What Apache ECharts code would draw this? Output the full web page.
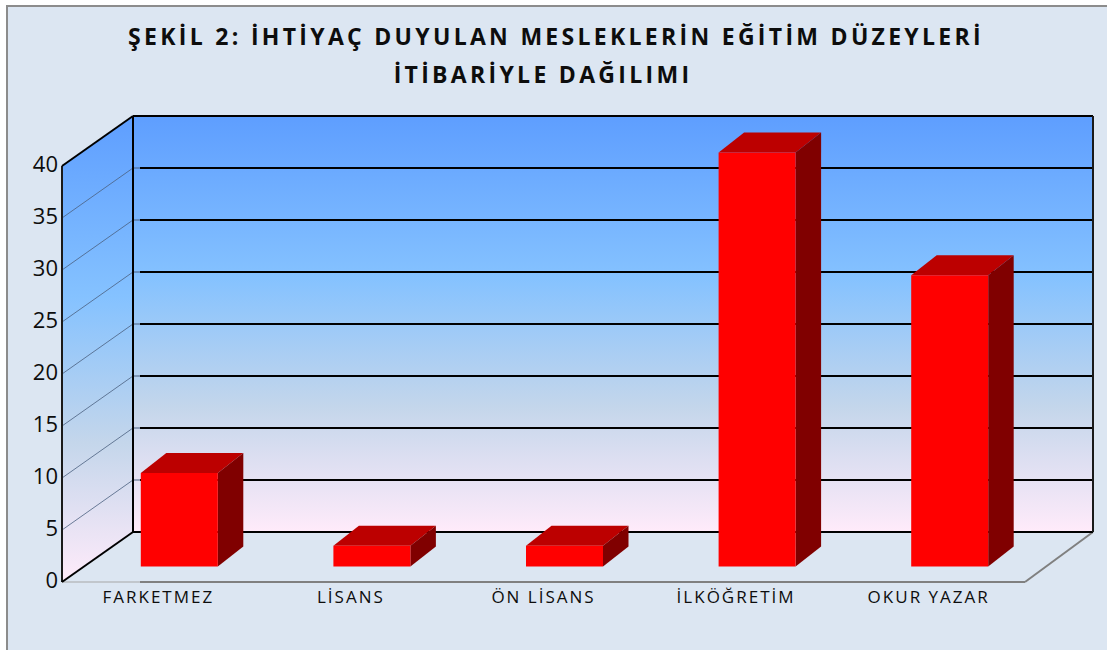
<!DOCTYPE html>
<html>
<head>
<meta charset="utf-8">
<style>
html,body{margin:0;padding:0;background:#fff}
#c{width:1107px;height:650px}
#c text[style*="bold"], #c text[font-weight="bold"]{letter-spacing:3.3px}
#c text[style*="17px"], #c text[font-size="17px"]{letter-spacing:2px}
</style>
<script src="https://cdn.jsdelivr.net/npm/echarts@6/dist/echarts.min.js"></script>
</head>
<body>
<div id="c"></div>
<script>
const titleLine1 = 'ŞEKİL 2: İHTİYAÇ DUYULAN MESLEKLERİN EĞİTİM DÜZEYLERİ';
const titleLine2 = 'İTİBARİYLE DAĞILIMI';
const categories = ['FARKETMEZ', 'LİSANS', 'ÖN LİSANS', 'İLKÖĞRETİM', 'OKUR YAZAR'];
const values = [9, 2, 2, 39.8, 28];
const yTicks = [0, 5, 10, 15, 20, 25, 30, 35, 40];

const wallDx = 71, wallDy = -50, floorRightDx = 68, gap = 7;
const barW = 77, barShiftX = 21, barShiftY = -15.5, barDx = 25.5, barDy = -20;
const wallStops = [
  {offset: 0, color: '#5E9EFF'}, {offset: 0.39, color: '#85C2FF'},
  {offset: 0.7, color: '#C4D6EB'}, {offset: 1, color: '#FFEBFA'}
];
const G = echarts.graphic;
const poly = (pts, style) => ({type: 'polygon', shape: {points: pts}, style, silent: true});
const line = (a, b, stroke, lineWidth) => ({
  type: 'line', shape: {x1: a[0], y1: a[1], x2: b[0], y2: b[1]},
  style: {stroke, lineWidth, fill: null}, silent: true
});

function renderWalls(params, api) {
  const cs = params.coordSys;
  const yTop = api.coord([0, 40])[1], yBot = api.coord([0, 0])[1];
  const L = cs.x, R = cs.x + cs.width;
  const BL = L + wallDx, BR = R + floorRightDx;
  const wallFill = () => new G.LinearGradient(0, 0, 0, 1, wallStops);
  return {type: 'group', children: [
    poly([[L, yTop], [BL, yTop + wallDy], [BL, yBot + wallDy], [L, yBot]], {fill: wallFill()}),
    poly([[BL, yTop + wallDy], [BR, yTop + wallDy], [BR, yBot + wallDy], [BL, yBot + wallDy]], {fill: wallFill()})
  ]};
}

function renderGrid(params, api) {
  const cs = params.coordSys;
  const v = api.value(1);
  const y = api.coord([0, v])[1];
  const L = cs.x, R = cs.x + cs.width;
  const BL = L + wallDx, BR = R + floorRightDx, by = y + wallDy;
  const kids = [];
  if (v > 0 && v < 40) {
    kids.push(line([L, y], [BL, by], '#4A5F7F', 0.8));
    kids.push(line([BL, by], [BL + gap, by], '#4A5F7F', 1));
    kids.push(line([BL + gap, by], [BR, by], '#000000', 2));
  }
  return {type: 'group', children: kids};
}

function renderFrame(params, api) {
  const cs = params.coordSys;
  const yTop = api.coord([0, 40])[1], yBot = api.coord([0, 0])[1];
  const L = cs.x, R = cs.x + cs.width;
  const BL = L + wallDx, BR = R + floorRightDx;
  return {type: 'group', children: [
    line([L, yBot], [BL + gap, yBot], '#A6A6A6', 1),
    line([BL + gap, yBot], [R, yBot], '#808080', 2),
    line([R, yBot], [BR, yBot + wallDy], '#808080', 2),
    line([BL, yBot + wallDy], [BR, yBot + wallDy], '#000000', 2),
    line([BL, yTop + wallDy], [BR, yTop + wallDy], '#000000', 2),
    line([BR, yTop + wallDy], [BR, yBot + wallDy], '#1A1A1A', 2),
    line([BL, yTop + wallDy], [BL, yBot + wallDy], '#000000', 2),
    line([L, yTop], [L, yBot], '#1A1A1A', 2),
    line([L, yTop], [BL, yTop + wallDy], '#000000', 2),
    line([L, yBot], [BL, yBot + wallDy], '#000000', 2)
  ]};
}

function renderBar(params, api) {
  const top = api.coord([api.value(0), api.value(1)]);
  const base = api.coord([api.value(0), 0]);
  const x0 = top[0] + barShiftX - barW / 2, x1 = x0 + barW;
  const yT = top[1] + barShiftY, yB = base[1] + barShiftY;
  return {type: 'group', children: [
    poly([[x0, yT], [x0 + barDx, yT + barDy], [x1 + barDx, yT + barDy], [x1, yT]], {fill: '#BC0000'}),
    poly([[x1, yT], [x1 + barDx, yT + barDy], [x1 + barDx, yB + barDy], [x1, yB]], {fill: '#800000'}),
    poly([[x0, yT], [x1, yT], [x1, yB], [x0, yB]], {fill: '#FF0000'})
  ]};
}

const titleBase = {textAlign: 'center', textStyle: {fontFamily: 'Open Sans', fontWeight: 'bold', fontSize: 23, color: '#0D0D0D'}};
const chart = echarts.init(document.getElementById('c'), null, {renderer: 'svg'});
chart.setOption({
  animation: false,
  backgroundColor: '#FFFFFF',
  title: [
    Object.assign({text: titleLine1, left: 551, top: 19}, titleBase),
    Object.assign({text: titleLine2, left: 538, top: 57}, titleBase)
  ],
  graphic: [{
    type: 'rect', z: -10, silent: true,
    shape: {x: 7, y: 6, width: 1120, height: 670},
    style: {fill: '#DCE6F2', stroke: '#8C8C8C', lineWidth: 2}
  }],
  grid: {left: 62, width: 963, top: 166, height: 416},
  xAxis: {
    type: 'category', data: categories,
    axisLine: {show: false}, axisTick: {show: false}, splitLine: {show: false},
    axisLabel: {fontFamily: 'Open Sans', fontSize: 17, color: '#0D0D0D', margin: 6}
  },
  yAxis: {
    type: 'value', min: 0, max: 40, interval: 5,
    axisLine: {show: false}, axisTick: {show: false}, splitLine: {show: false},
    axisLabel: {fontFamily: 'Open Sans', fontSize: 22, color: '#0D0D0D', margin: 4, verticalAlign: 'bottom', lineHeight: 6, formatter: v => String(v)}
  },
  series: [
    {type: 'custom', coordinateSystem: 'cartesian2d', z: 1, renderItem: renderWalls, data: [[0, 0]], encode: {x: 0, y: 1}, silent: true},
    {type: 'custom', coordinateSystem: 'cartesian2d', z: 2, renderItem: renderGrid, data: yTicks.map(v => [0, v]), encode: {x: 0, y: 1}, silent: true},
    {type: 'custom', coordinateSystem: 'cartesian2d', z: 3, renderItem: renderFrame, data: [[0, 0]], encode: {x: 0, y: 1}, silent: true},
    {type: 'custom', coordinateSystem: 'cartesian2d', z: 4, renderItem: renderBar, data: values.map((v, i) => [i, v]), encode: {x: 0, y: 1}, silent: true}
  ]
});
</script>
</body>
</html>
